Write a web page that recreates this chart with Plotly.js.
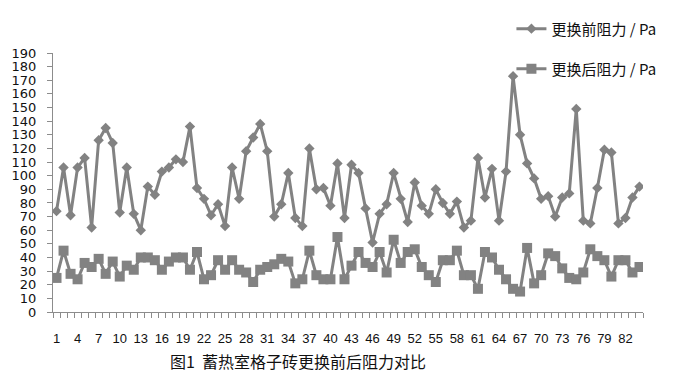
<!DOCTYPE html>
<html><head><meta charset="utf-8">
<script src="https://cdn.plot.ly/plotly-3.0.1.min.js"></script>
<style>html,body{margin:0;padding:0;background:#fff}#chart{width:674px;height:380px}</style>
</head><body><div id="chart"></div>
<script>
const categories = [1,2,3,4,5,6,7,8,9,10,11,12,13,14,15,16,17,18,19,20,21,22,23,24,25,26,27,28,29,30,31,32,33,34,35,36,37,38,39,40,41,42,43,44,45,46,47,48,49,50,51,52,53,54,55,56,57,58,59,60,61,62,63,64,65,66,67,68,69,70,71,72,73,74,75,76,77,78,79,80,81,82,83,84];
const beforeValues = [74,106,71,106,113,62,126,135,124,73,106,72,60,92,86,103,106,112,110,136,91,83,71,79,63,106,83,118,128,138,118,70,79,102,69,63,120,90,91,78,109,69,108,102,76,51,72,79,102,83,66,95,78,72,90,80,72,81,62,67,113,84,105,67,103,173,130,109,98,83,85,70,84,87,149,67,65,91,119,117,65,69,84,92];
const afterValues = [25,45,28,24,36,33,39,28,37,26,34,31,40,40,38,31,37,40,40,31,44,24,27,38,31,38,31,29,22,31,33,35,39,37,21,24,45,27,24,24,55,24,34,44,36,33,44,29,53,36,44,46,33,27,22,38,38,45,27,27,17,44,40,31,24,17,15,47,21,27,43,41,32,25,24,29,46,41,38,26,38,38,29,33];
const xTickValues = [1,4,7,10,13,16,19,22,25,28,31,34,37,40,43,46,49,52,55,58,61,64,67,70,73,76,79,82];
const xTickLabels = ['1','4','7','10','13','16','19','22','25','28','31','34','37','40','43','46','49','52','55','58','61','64','67','70','73','76','79','82'];
const yTickValues = [0,10,20,30,40,50,60,70,80,90,100,110,120,130,140,150,160,170,180,190];
const seriesNames = ['更换前阻力 / Pa', '更换后阻力 / Pa'];
const chartTitle = '图1  蓄热室格子砖更换前后阻力对比';

const gray = '#828282';
const axisGray = '#8c8c8c';
const traces = [
  {x: categories, y: beforeValues, name: seriesNames[0], type: 'scatter', mode: 'lines+markers',
   line: {color: gray, width: 3}, marker: {symbol: 'diamond', size: 8, color: gray}, legend: 'legend'},
  {x: categories, y: afterValues, name: seriesNames[1], type: 'scatter', mode: 'lines+markers',
   line: {color: gray, width: 3}, marker: {symbol: 'square', size: 10, color: gray}, legend: 'legend2'}
];
const legendFont = {family: 'Noto Sans CJK SC, sans-serif', size: 15, color: '#111'};
const layout = {
  width: 674, height: 380,
  margin: {l: 53, r: 31, t: 43, b: 68},
  paper_bgcolor: '#fff', plot_bgcolor: '#fff',
  showlegend: true,
  font: {family: 'DejaVu Sans, sans-serif', color: '#1a1a1a'},
  xaxis: {
    range: [0.5, 84.5], tickmode: 'array', tickvals: xTickValues, ticktext: xTickLabels,
    ticks: '', showgrid: false, zeroline: false, showline: true, linecolor: axisGray, linewidth: 1,
    tickfont: {family: 'Liberation Sans Narrow, Liberation Sans, sans-serif', size: 13, color: '#111'},
    ticklabelstandoff: 14,
    minor: {tickmode: 'linear', tick0: 0.5, dtick: 1, ticks: 'outside', ticklen: 5, tickcolor: axisGray, showgrid: false}
  },
  yaxis: {
    range: [0, 190], tickmode: 'array', tickvals: yTickValues,
    ticks: 'outside', ticklen: 5, tickcolor: axisGray, showgrid: false, zeroline: false,
    showline: true, linecolor: axisGray, linewidth: 1,
    tickfont: {family: 'DejaVu Sans, sans-serif', size: 13, color: '#111'}, ticklabelstandoff: 8
  },
  legend: {x: 0.777, xanchor: 'left', y: 1.093, yanchor: 'middle', bgcolor: 'rgba(0,0,0,0)', font: legendFont},
  legend2: {x: 0.777, xanchor: 'left', y: 0.938, yanchor: 'middle', bgcolor: 'rgba(0,0,0,0)', font: legendFont},
  annotations: [{
    text: chartTitle, xref: 'paper', yref: 'paper', x: 0.416, y: -0.191,
    xanchor: 'center', yanchor: 'middle', showarrow: false,
    font: {family: 'Noto Sans CJK SC, sans-serif', size: 16, color: '#111'}
  }]
};
Plotly.newPlot('chart', traces, layout, {staticPlot: true, displayModeBar: false});
</script>
</body></html>
